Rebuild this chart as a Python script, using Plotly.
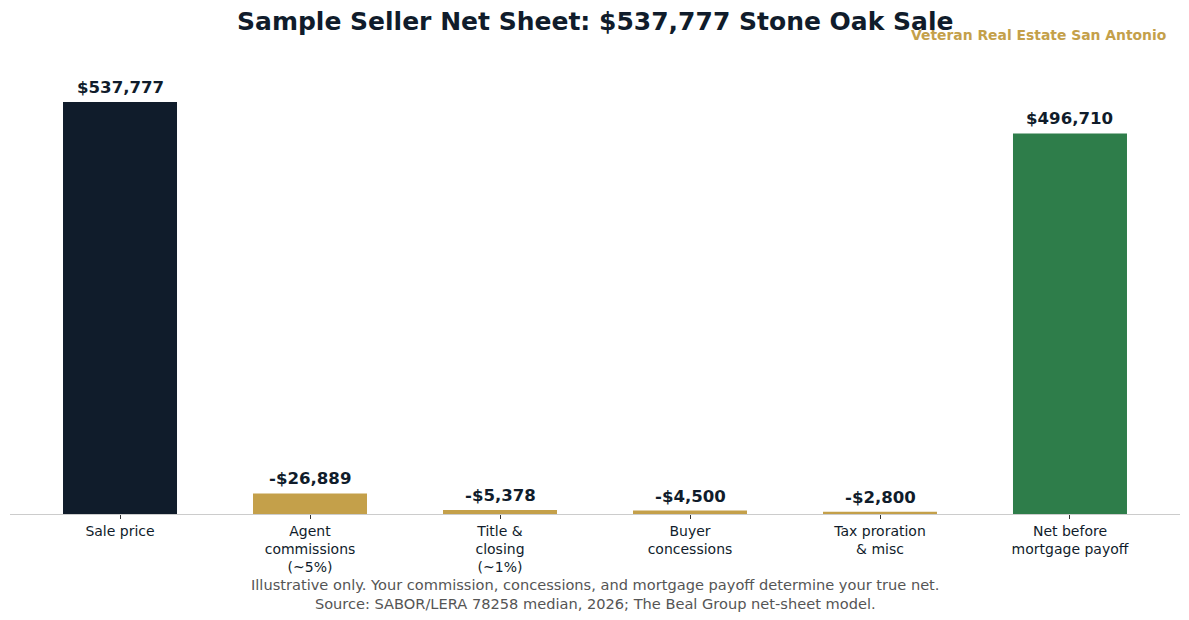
import plotly.graph_objects as go

categories = ["Sale price", "Agent<br>commissions<br>(~5%)", "Title &<br>closing<br>(~1%)",
              "Buyer<br>concessions", "Tax proration<br>& misc", "Net before<br>mortgage payoff"]
values = [537777, 26889, 5378, 4500, 2800, 496710]
value_labels = ["$537,777", "-$26,889", "-$5,378", "-$4,500", "-$2,800", "$496,710"]
bar_colors = ["#101c2b", "#c4a04a", "#c4a04a", "#c4a04a", "#c4a04a", "#2e7d4a"]

FONT = "DejaVu Sans"
x = list(range(len(categories)))

fig = go.Figure()
fig.add_trace(go.Bar(x=x, y=values, marker=dict(color=bar_colors, line=dict(width=0)),
                     width=0.6, hoverinfo="skip"))

for xi, v, t in zip(x, values, value_labels):
    fig.add_annotation(x=xi, y=v, xref="x", yref="y", text="<b>%s</b>" % t, showarrow=False,
                       yanchor="bottom", yshift=3, font=dict(family=FONT, size=16.6, color="#101c2b"))

fig.add_annotation(x=0.5, y=1, xref="paper", yref="paper", xanchor="center", yanchor="middle",
                   yshift=19, text="<b>Sample Seller Net Sheet: $537,777 Stone Oak Sale</b>",
                   showarrow=False, font=dict(family=FONT, size=25, color="#101c2b"))
fig.add_annotation(x=(1168 - 10) / 1170, y=1, xref="paper", yref="paper", xanchor="right",
                   yanchor="middle", yshift=5, text="<b>Veteran Real Estate San Antonio</b>",
                   showarrow=False, font=dict(family=FONT, size=13.9, color="#c4a04a"))
fig.add_annotation(x=0.5, y=0, xref="paper", yref="paper", xanchor="center", yanchor="middle",
                   yshift=-80,
                   text="Illustrative only. Your commission, concessions, and mortgage payoff determine your true net.<br>Source: SABOR/LERA 78258 median, 2026; The Beal Group net-sheet model.",
                   showarrow=False, font=dict(family=FONT, size=14.6, color="#555555"))

ymax = 474 * 537777 / 412
fig.update_layout(
    width=1189, height=620,
    margin=dict(l=10, r=9, t=40, b=106),
    paper_bgcolor="white", plot_bgcolor="white",
    showlegend=False,
    xaxis=dict(tickmode="array", tickvals=x, ticktext=categories, range=[-0.579, 5.579],
               showline=True, linecolor="#cccccc", linewidth=1, ticks="outside", ticklen=4,
               tickcolor="#333333", showgrid=False, zeroline=False,
               tickfont=dict(family=FONT, size=14, color="#101c2b")),
    yaxis=dict(range=[0, ymax], visible=False, showgrid=False, zeroline=False),
    font=dict(family=FONT),
)

fig.write_html("out.html")
